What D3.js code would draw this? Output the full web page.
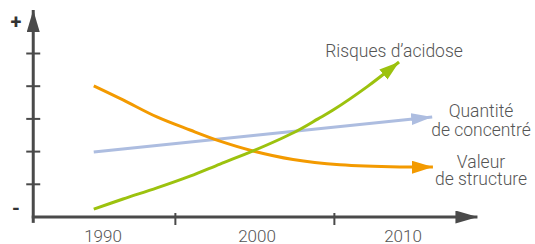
<!DOCTYPE html>
<html>
<head>
<meta charset="utf-8">
<script src="https://cdn.jsdelivr.net/npm/d3@7"></script>
<style>
  html, body { margin: 0; padding: 0; background: #fff; }
  svg text { font-family: Roboto, "Noto Sans", sans-serif; font-weight: 300; fill: #555; }
</style>
</head>
<body>
<svg id="chart"></svg>
<script>
// values (year, level 0..5)
var xLabels = [1990, 2000, 2010]
var xTicks = [1994.7, 2005.3]
var yTicks = [1, 2, 3, 4, 5]

var acidYears = [1989.4, 1991.3, 1993.5, 1995.65, 1997.6, 1999.74, 2002.6, 2004.18, 2005.21, 2007.53, 2009.73]
var acidVals = [0.24, 0.55, 0.89, 1.25, 1.62, 2.02, 2.60, 3.00, 3.27, 3.98, 4.74]

var concYears = [1989.4, 2012.0]
var concVals = [1.99, 3.06]

var structYears = [1989.4, 1991.3, 1993.5, 1995.65, 1997.6, 1999.74, 2002.47, 2005.68, 2009.79, 2012.05]
var structVals = [4.01, 3.58, 3.06, 2.66, 2.32, 2.02, 1.76, 1.60, 1.53, 1.53]

var seriesNames = ["Risques d\u2019acidose", "Quantit\u00e9|de concentr\u00e9", "Valeur|de structure"]

var width = 535, height = 244
var svg = d3.select("#chart").attr("width", width).attr("height", height)

var x = d3.scaleLinear().domain([1990, 2000, 2010]).range([103, 257, 403])
var y = d3.scaleLinear().domain([0, 5]).range([217, 53.5])

var axisColor = "#4a4a4a"
var xStart = 1985.47, xEnd = 2015.1
var yBottom = -0.18, yTop = 6.33

var defs = svg.append("defs")
function marker(id, color, len, w) {
  defs.append("marker")
    .attr("id", id)
    .attr("markerUnits", "userSpaceOnUse")
    .attr("markerWidth", len).attr("markerHeight", w)
    .attr("refX", len).attr("refY", w / 2)
    .attr("orient", "auto")
    .append("path")
    .attr("d", "M0,0 L" + len + "," + (w / 2) + " L0," + w + " Z")
    .attr("fill", color)
}
marker("ax", axisColor, 22, 13)
marker("m-acid", "#9cc20e", 20, 13)
marker("m-conc", "#adbde0", 21, 12)
marker("m-struct", "#f39a00", 21, 13)

// axes
svg.append("line")
  .attr("x1", x(xStart)).attr("x2", x(xStart))
  .attr("y1", y(yBottom)).attr("y2", y(yTop))
  .attr("stroke", axisColor).attr("stroke-width", 3)
  .attr("marker-end", "url(#ax)")

svg.append("line")
  .attr("x1", x(xStart) - 1.5).attr("x2", x(xEnd))
  .attr("y1", y(0)).attr("y2", y(0))
  .attr("stroke", axisColor).attr("stroke-width", 3)
  .attr("marker-end", "url(#ax)")

svg.selectAll(".ytick").data(yTicks).enter().append("line")
  .attr("x1", x(xStart) - 7).attr("x2", x(xStart) + 7)
  .attr("y1", function(d){ return y(d) }).attr("y2", function(d){ return y(d) })
  .attr("stroke", axisColor).attr("stroke-width", 2)

svg.selectAll(".xtick").data(xTicks).enter().append("line")
  .attr("x1", function(d){ return x(d) }).attr("x2", function(d){ return x(d) })
  .attr("y1", y(0) - 4).attr("y2", y(0) + 8)
  .attr("stroke", axisColor).attr("stroke-width", 2)

svg.selectAll(".xlab").data(xLabels).enter().append("text")
  .attr("x", function(d){ return x(d) }).attr("y", 242)
  .attr("text-anchor", "middle")
  .style("font-size", "17px")
  .text(function(d){ return d })

svg.append("text").attr("x", 16).attr("y", 29).attr("text-anchor", "middle")
  .style("font-size", "20px").style("font-weight", "bold").style("fill", "#333").text("+")
svg.append("text").attr("x", 16).attr("y", 215).attr("text-anchor", "middle")
  .style("font-size", "20px").style("font-weight", "bold").style("fill", "#333").text("-")

// series
var line = d3.line()
  .x(function(d){ return x(d[0]) })
  .y(function(d){ return y(d[1]) })
  .curve(d3.curveCatmullRom.alpha(0.5))

function series(years, vals, color, mk) {
  svg.append("path")
    .datum(d3.zip(years, vals))
    .attr("d", line)
    .attr("fill", "none")
    .attr("stroke", color)
    .attr("stroke-width", 3)
    .attr("marker-end", "url(#" + mk + ")")
}
series(concYears, concVals, "#adbde0", "m-conc")
series(structYears, structVals, "#f39a00", "m-struct")
series(acidYears, acidVals, "#9cc20e", "m-acid")

// labels
function label(cx, baseline, txt, lh) {
  var t = svg.append("text").attr("text-anchor", "middle").style("font-size", "17.5px")
  txt.split("|").forEach(function(s, i) {
    t.append("tspan").attr("x", cx).attr("y", baseline + i * lh).text(s)
  })
}
label(394, 57, seriesNames[0], 0)
label(481, 117, seriesNames[1], 19)
label(481, 168, seriesNames[2], 17)
</script>
</body>
</html>
